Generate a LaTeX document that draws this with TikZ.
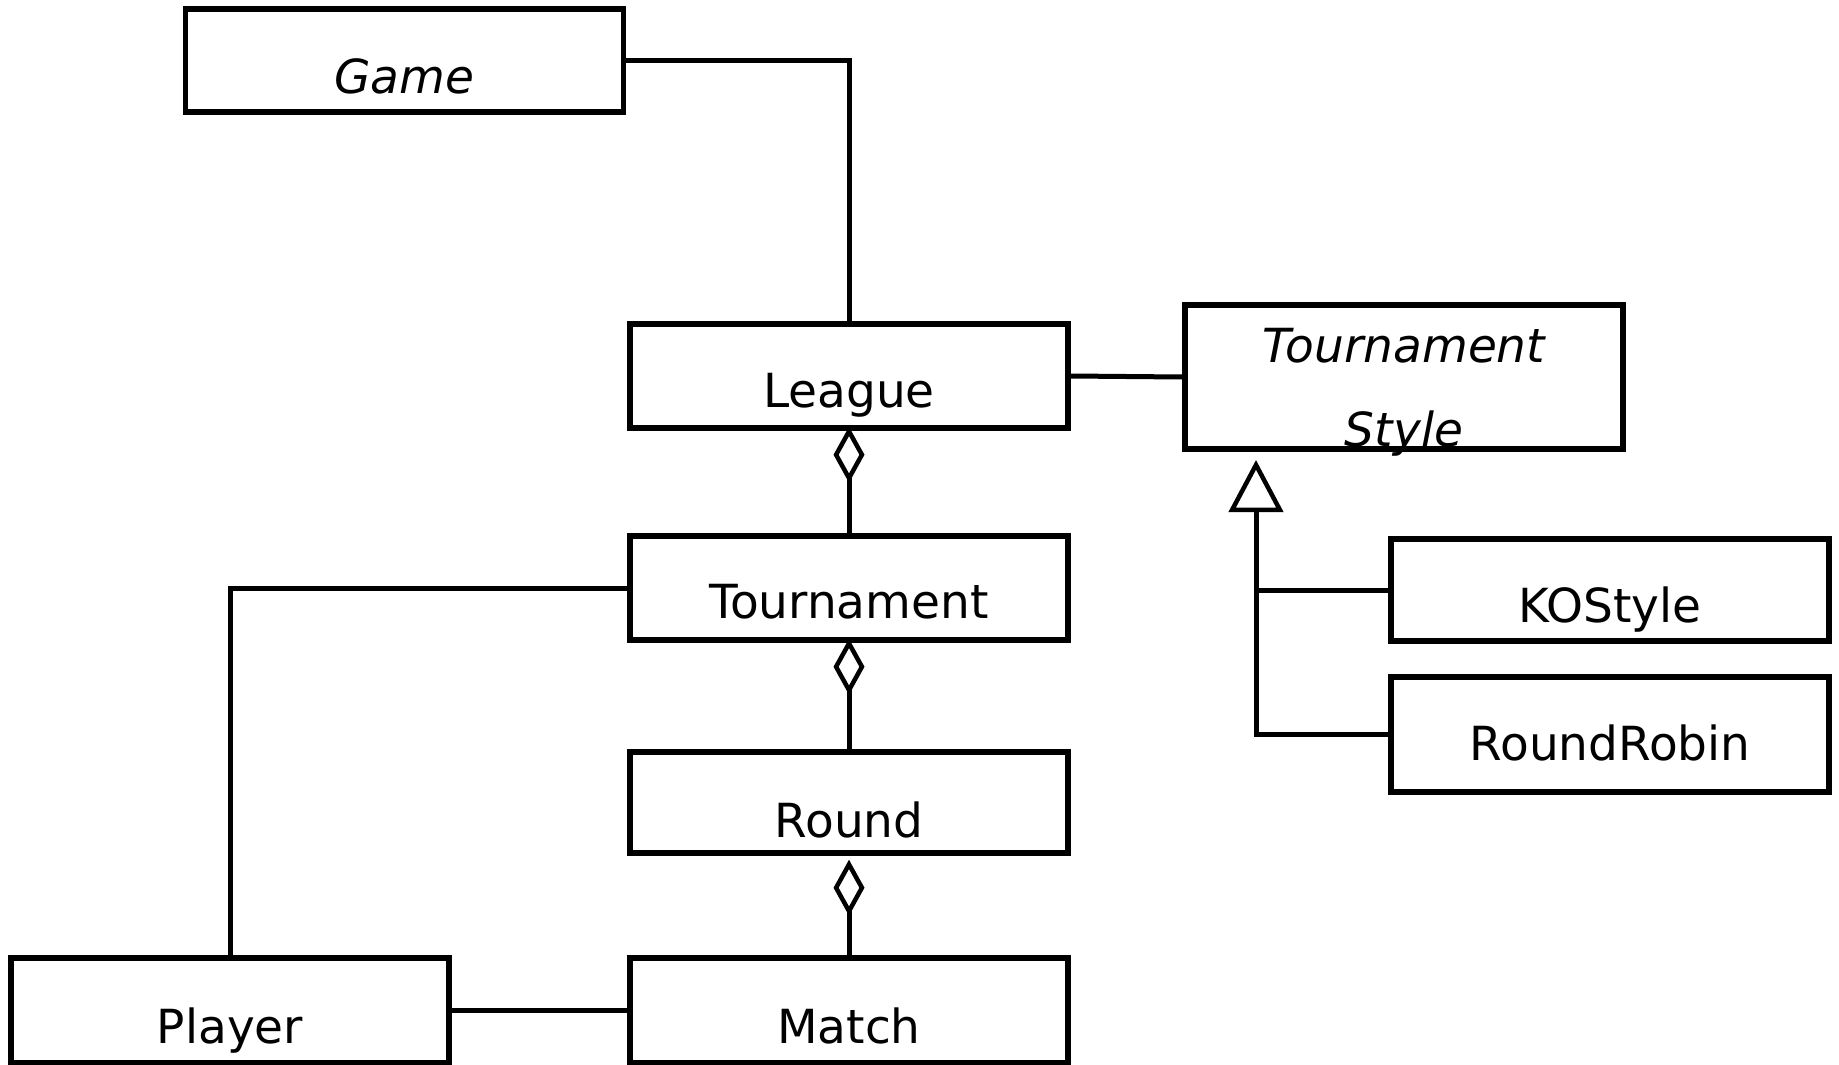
\documentclass[tikz,border=0pt]{standalone}
\usepackage{fontspec}
\setmainfont{DejaVu Sans}
\usetikzlibrary{arrows.meta}
\begin{document}
\begin{tikzpicture}[x=1pt,y=-1pt,
  box/.style={draw, line width=5.5pt, inner sep=0pt, minimum width=438pt, font=\fontsize{47}{56}\selectfont},
  lbl/.style={inner sep=0pt, anchor=base, font=\fontsize{47}{56}\selectfont\itshape},
  conn/.style={line width=5pt},
  agg/.style={conn, -{Diamond[open, length=56pt, width=31pt, line width=4.5pt]}},
  gen/.style={conn, -{Triangle[open, length=52pt, width=54pt, line width=4.5pt]}}]
\useasboundingbox (0,0) rectangle (1839,1065);
\node[box, text height=84pt, text depth=19pt] (game) at (404.5,60.5) {\itshape Game};
\node[box, text height=83pt, text depth=21pt] (league) at (849,376) {League};
\node[box, text height=82pt, text depth=22pt] (tour) at (849,588) {Tournament};
\node[box, text height=85pt, text depth=16pt] (round) at (849,802.5) {Round};
\node[box, text height=85pt, text depth=20pt] (player) at (230,1010.5) {Player};
\node[box, text height=85pt, text depth=20pt] (match) at (849,1010.5) {Match};
\node[box, minimum height=144pt] (ts) at (1404,377) {};
\node[lbl] (tsa) at (1404,362) {Tournament};
\node[lbl] (tsb) at (1404,446) {Style};
\node[box, text height=83pt, text depth=19pt] (ko) at (1610,590) {KOStyle};
\node[box, text height=83pt, text depth=32pt] (rr) at (1610,734.5) {RoundRobin};
\coordinate (apex) at (1256,460);
\draw[conn] (game.east) -| (league.north);
\draw[conn] (league.east) -- (ts.west);
\draw[agg, shorten >=-4pt] (tour.north) -- (league.south);
\draw[agg, shorten >=-4pt] (round.north) -- (tour.south);
\draw[agg, shorten >=4pt] (match.north) -- (round.south);
\draw[conn] (tour.west) -| (player.north);
\draw[conn] (player.east) -- (match.west);
\draw[gen] (rr.west) -| (apex);
\draw[conn] (ko.west) -- (ko.west -| apex);
\end{tikzpicture}
\end{document}
